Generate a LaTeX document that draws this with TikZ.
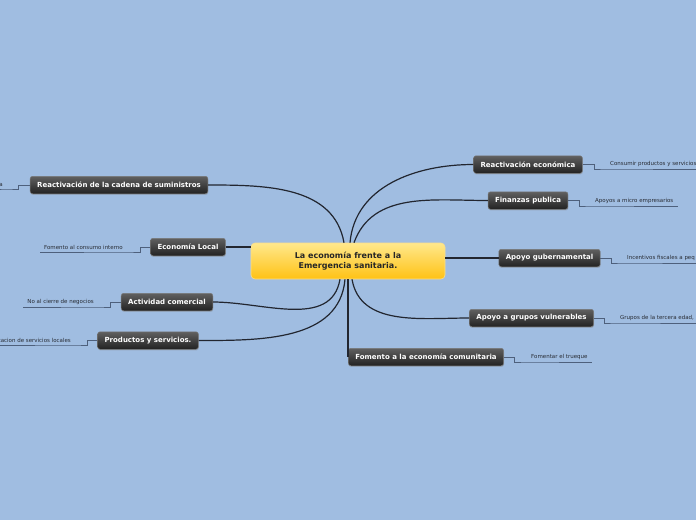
\documentclass[tikz,border=0pt]{standalone}
\usepackage{fontspec}
\setmainfont{DejaVu Sans}
\usetikzlibrary{shadows}
\definecolor{bgcol}{RGB}{160,189,225}
\definecolor{nodetop}{RGB}{96,96,96}
\definecolor{nodebot}{RGB}{34,34,34}
\definecolor{nodeborder}{RGB}{120,120,120}
\definecolor{ctrtop}{RGB}{255,232,140}
\definecolor{ctrbot}{RGB}{255,194,20}
\definecolor{ctrborder}{RGB}{250,222,140}
\definecolor{mainline}{RGB}{34,38,48}
\definecolor{leafline}{RGB}{78,96,124}
\definecolor{leaftext}{RGB}{40,44,52}
\tikzset{
  branch/.style={draw=nodeborder, line width=0.5pt, rounded corners=2.5pt,
    top color=nodetop, bottom color=nodebot, text=white,
    font=\fontsize{7}{8}\selectfont\bfseries, inner xsep=7pt, inner ysep=0pt,
    minimum height=17.5pt,
    drop shadow={shadow xshift=0.4pt, shadow yshift=-1.2pt, opacity=0.35}},
  center/.style={draw=ctrborder, line width=0.6pt, rounded corners=4pt,
    top color=ctrtop, bottom color=ctrbot, text=black!85,
    font=\fontsize{8}{10}\selectfont\bfseries, align=center,
    minimum width=194pt, minimum height=36pt, inner sep=0pt},
  leaf/.style={font=\fontsize{5.5}{6.5}\selectfont, text=leaftext,
    inner xsep=4pt, inner ysep=2pt},
  mainconn/.style={draw=mainline, line width=1.2pt},
  leafconn/.style={draw=leafline, line width=0.8pt}
}
\begin{document}
\begin{tikzpicture}[x=1pt,y=-1pt]
\fill[bgcol] (0,0) rectangle (696,520);
\useasboundingbox (0,0) rectangle (696,520);

% center
\node[center] (ctr) at (348,261) {La economía frente a la\\Emergencia sanitaria.};

% branches
\node[branch] (b1) at (119,185) {Reactivación de la cadena de suministros};
\node[branch] (b2) at (188,247) {Economía Local};
\node[branch] (b3) at (167,302) {Actividad comercial};
\node[branch] (b4) at (148,340.5) {Productos y servicios.};
\node[branch] (b5) at (528,164.5) {Reactivación económica};
\node[branch] (b6) at (528,200.5) {Finanzas publica};
\node[branch] (b7) at (549.5,258) {Apoyo gubernamental};
\node[branch] (b8) at (531.5,318) {Apoyo a grupos vulnerables};
\node[branch] (b9) at (426,357) {Fomento a la economía comunitaria};

% main connectors
\draw[mainconn] ([xshift=-4pt]ctr.north) to[out=100,in=0] (b1.east);
\draw[mainconn] (b2.east) -- (b2.east -| ctr.west);
\draw[mainconn] ([xshift=-8pt]ctr.south) to[out=-100,in=0] (b3.east);
\draw[mainconn] ([xshift=-3pt]ctr.south) to[out=-95,in=0] (b4.east);
\draw[mainconn] ([xshift=2pt]ctr.north) to[out=85,in=180] (b5.west);
\draw[mainconn] ([xshift=6pt]ctr.north) to[out=70,in=180] (b6.west);
\draw[mainconn] (ctr.east |- b7.west) -- (b7.west);
\draw[mainconn] ([xshift=4pt]ctr.south) to[out=-80,in=180] (b8.west);
\draw[mainconn] (ctr.south) -- (ctr.south |- b9.west);

% leaves (left side)
\node[leaf, anchor=south east] (l1) at (7,189) {a};
\node[leaf, anchor=south east] (l2) at (127,252) {Fomento al consumo interno};
\node[leaf, anchor=south east] (l3) at (98,307) {No al cierre de negocios};
\node[leaf, anchor=south east] (l4) at (75,345) {tacion de servicios locales};
% leaves (right side)
\node[leaf, anchor=south west] (l5) at (606,169) {Consumir productos y servicios};
\node[leaf, anchor=south west] (l6) at (591,206) {Apoyos a micro empresarios};
\node[leaf, anchor=south west] (l7) at (623,263) {Incentivos fiscales a peq};
\node[leaf, anchor=south west] (l8) at (616,323) {Grupos de la tercera edad,};
\node[leaf, anchor=south west] (l9) at (527,362) {Fomentar el trueque};

% leaf connectors
\draw[leafconn] (b1.west) -- ++(-11,0) |- (l1.south east) -- (l1.south west);
\draw[leafconn] (b2.west) -- ++(-10,0) |- (l2.south east) -- (l2.south west);
\draw[leafconn] (b3.west) -- ++(-11,0) |- (l3.south east) -- (l3.south west);
\draw[leafconn] (b4.west) -- ++(-10,0) |- (l4.south east) -- (l4.south west);
\draw[leafconn] (b5.east) -- ++(12,0) |- (l5.south west) -- (l5.south east);
\draw[leafconn] (b6.east) -- ++(11,0) |- (l6.south west) -- (l6.south east);
\draw[leafconn] (b7.east) -- ++(11,0) |- (l7.south west) -- ++(80,0);
\draw[leafconn] (b8.east) -- ++(11,0) |- (l8.south west) -- ++(90,0);
\draw[leafconn] (b9.east) -- ++(11,0) |- (l9.south west) -- (l9.south east);
\end{tikzpicture}
\end{document}
